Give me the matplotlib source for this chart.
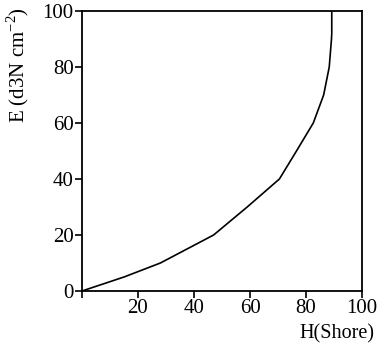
import matplotlib
matplotlib.use("Agg")
import matplotlib.pyplot as plt

# Data
hardness = [0, 15, 28, 47, 59, 70.5, 76.6, 82.6, 86.3, 88.3, 89.1, 89.2, 89.2]
modulus = [0, 5, 10, 20, 30, 40, 50, 60, 70, 80, 90, 92, 100]
x_ticks = [0, 20, 40, 60, 80, 100]
x_tick_labels = ["", "20", "40", "60", "80", "100"]
y_ticks = [0, 20, 40, 60, 80, 100]
y_tick_labels = ["0", "20", "40", "60", "80", "100"]

plt.rcParams['font.family'] = ['Liberation Serif', 'DejaVu Serif']
plt.rcParams['mathtext.fontset'] = 'custom'
plt.rcParams['mathtext.rm'] = 'Liberation Serif'

fig = plt.figure(figsize=(3.8, 3.45), dpi=100)
ax = fig.add_axes([82/380, 1-291/345, 280/380, 280/345])
ax.plot(hardness, modulus, color='black', lw=1.2)
ax.set_xlim(0, 100)
ax.set_ylim(0, 100)
ax.set_xticks(x_ticks)
ax.set_xticklabels(x_tick_labels)
ax.set_yticks(y_ticks)
ax.set_yticklabels(y_tick_labels)
ax.tick_params(direction='out', length=5, width=1.2, labelsize=15, pad=1)
for s in ax.spines.values():
    s.set_linewidth(1.3)
fig.text(18/380, 1-65/345, r"E (d3N cm$^{\mathrm{-2}}$)", rotation=90,
         ha='center', va='center', fontsize=15)
fig.text(374/380, 1-334/345, "H(Shore)", ha='right', va='center', fontsize=14.5)
fig.savefig("out.png", dpi=100)
